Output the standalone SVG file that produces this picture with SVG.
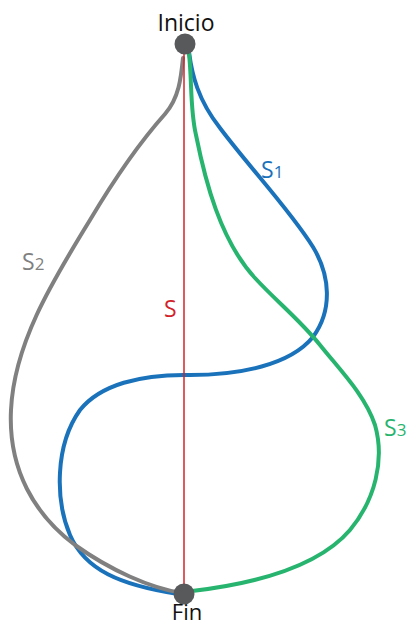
<svg xmlns="http://www.w3.org/2000/svg" width="413" height="627" viewBox="0 0 413 627">
<style>
.c{fill:none;stroke-width:4;stroke-linecap:round;stroke-linejoin:round}
.t{font-family:"Open Sans","Noto Sans","DejaVu Sans",sans-serif}
.node{fill:#58595b}
.lbl{font-size:23px}
</style>
<rect width="413" height="627" fill="#ffffff"/>
<g id="connectors">
<path id="s1" class="c" stroke="#1a72bb" d="M189,52 C192,75 198,100 220,128 C250,168 290,210 313,247 C330,275 333,310 313,337 C290,365 240,375 190,375 C140,374 100,385 80,410 C55,445 55,500 70,535 C85,570 120,585 178,594"/>
<path id="s2" class="c" stroke="#808080" d="M183,58 C181,78 179,98 165,114 C140,142 115,178 90,220 C50,285 14,345 11,410 C8,470 35,515 75,545 C110,570 150,588 182,593"/>
<path id="s3" class="c" stroke="#27b46e" d="M189,54 C192,80 190,110 196,135 C205,180 220,240 255,278 C275,300 300,320 320,345 C340,370 365,395 375,425 C385,460 375,500 350,530 C320,565 260,583 192,591"/>
<line id="s" x1="184" y1="44" x2="184" y2="594" stroke="#d2232a" stroke-width="1.5"/>
</g>
<g id="labels" class="t lbl">
<text x="261" y="178" fill="#1a72bb">S<tspan font-size="17">1</tspan></text>
<text x="22" y="270" fill="#808080">S<tspan font-size="17">2</tspan></text>
<text x="164" y="317" fill="#d2232a">S</text>
<text x="384" y="436" fill="#27b46e">S<tspan font-size="17">3</tspan></text>
</g>
<g id="inicio">
<circle class="node" cx="185" cy="44" r="10.5"/>
<text class="t" x="186" y="31" font-size="23" text-anchor="middle" fill="#111">Inicio</text>
</g>
<g id="fin">
<circle class="node" cx="184" cy="594" r="10.5"/>
<text class="t" x="187" y="620" font-size="22" text-anchor="middle" fill="#111">Fin</text>
</g>
</svg>
